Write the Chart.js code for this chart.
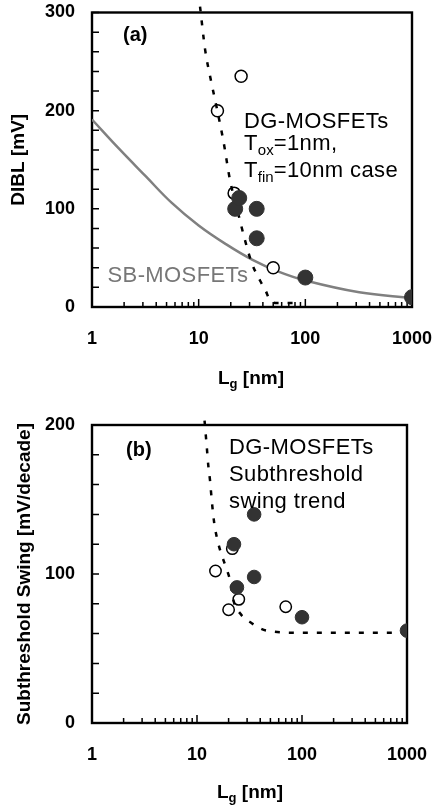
<!DOCTYPE html>
<html lang="en">
    <head>
        <meta charset="utf-8">
        <title>DIBL and subthreshold swing vs Lg</title>
        <script type="text/javascript" src="https://cdn.jsdelivr.net/npm/chart.js@4/dist/chart.umd.min.js"></script>
        <style>
            body { margin: 0; background: #fff; width: 435px; height: 807px; position: relative; overflow: hidden;
                   font-family: 'Liberation Sans', Arial, sans-serif; }
            canvas { position: absolute; left: 0; }
            .t { position: absolute; white-space: nowrap; line-height: 1; font-size: 22px; letter-spacing: 0.4px; color: #000; }
            .t sub { font-size: 15px; vertical-align: -5px; line-height: 0; letter-spacing: 0; }
            .lab { font-weight: bold; font-size: 20px; letter-spacing: 0; }
            .ax { font-weight: bold; font-size: 19px; letter-spacing: 0; }
            .ax sub { font-size: 13px; vertical-align: -4px; }
        </style>
    </head>
    <body>
        <canvas id="chartA" width="435" height="400" style="top:0"></canvas>
        <canvas id="chartB" width="435" height="407" style="top:400px"></canvas>

        <!-- texte du graphe (a) -->
        <div class="t lab" style="left:123px; top:24px">(a)</div>
        <div class="t" style="left:244px; top:109.5px">DG-MOSFETs</div>
        <div class="t" style="left:244px; top:132px">T<sub>ox</sub>=1nm,</div>
        <div class="t" style="left:244px; top:158.5px">T<sub>fin</sub>=10nm case</div>
        <div class="t" style="left:107.5px; top:264px; color:#777">SB-MOSFETs</div>
        <div class="t ax" style="left:218px; top:368px">L<sub>g</sub> [nm]</div>

        <!-- texte du graphe (b) -->
        <div class="t lab" style="left:126px; top:439px">(b)</div>
        <div class="t" style="left:229px; top:435.7px">DG-MOSFETs</div>
        <div class="t" style="left:229px; top:463px">Subthreshold</div>
        <div class="t" style="left:229px; top:489.7px">swing trend</div>
        <div class="t ax" style="left:217px; top:782px">L<sub>g</sub> [nm]</div>

        <script type="text/javascript">
        /// (a) DIBL [mV] en fonction de Lg [nm]
        const diblOpenLg = [15, 21.5, 25, 50];
        const diblOpenVal = [200, 116, 235, 40];
        const diblFilledLg = [22, 24, 35, 35, 100, 1000];
        const diblFilledVal = [100, 111, 100, 70, 30, 10];
        const sbLg = [1, 1.8, 3.2, 5.6, 10, 18, 32, 56, 100, 320, 1000];
        const sbDibl = [191, 161, 133, 106, 83, 64, 48, 36, 27, 15, 9];
        const dgTrendLg = [10.3, 11.5, 13.2, 14.7, 17, 19.7, 23.5, 27.2, 31.4, 37.6, 42.7, 47, 55, 90];
        const dgTrendDibl = [306, 262, 228, 204, 170, 129, 95, 68, 45, 27, 16, 6, 4, 4];

        /// (b) Subthreshold swing [mV/decade]
        const ssOpenLg = [15, 20, 21.7, 25, 70];
        const ssOpenVal = [102, 76, 117, 83, 78];
        const ssFilledLg = [22.5, 24, 35, 35, 100, 1000];
        const ssFilledVal = [120, 91, 140, 98, 71, 62];
        const ssTrendLg = [11.8, 12.4, 12.8, 13.3, 13.8, 14.6, 15.4, 16.6, 19.2, 20.6, 22.2, 25.7, 33.2, 46, 100, 1000];
        const ssTrendVal = [203, 185, 173, 163, 150, 134, 125, 116, 103, 96, 82.5, 73.6, 67, 62, 60.5, 60.5];

        /// ticks
        const xMajorTicks = [1, 10, 100, 1000];
        const diblTicks = [0, 100, 200, 300];
        const ssTicks = [0, 100, 200];

        Chart.defaults.font.family = "'Liberation Sans', Arial, sans-serif";
        Chart.defaults.color = '#000';

        function pts(xs, ys) {
            return xs.map((x, i) => ({x: x, y: ys[i]}));
        }

        // cadre + petites graduations vers l'interieur
        const cadre = {
            id: 'cadre',
            beforeDatasetsDraw(chart, args, opts) {
                const ctx = chart.ctx;
                const a = chart.chartArea;
                const x = chart.scales.x, y = chart.scales.y;
                ctx.save();
                ctx.strokeStyle = '#000';
                ctx.lineWidth = 1.5;
                ctx.beginPath();
                for (let v = y.min; v <= y.max; v += opts.yStep) {
                    const py = y.getPixelForValue(v);
                    ctx.moveTo(a.left, py);
                    ctx.lineTo(a.left + 7, py);
                }
                for (let d = 1; d < 1000; d *= 10) {
                    for (let k = 1; k <= 10; k++) {
                        const px = x.getPixelForValue(d * k);
                        const len = (k === 1 || k === 10) ? 8 : 5;
                        ctx.moveTo(px, a.bottom);
                        ctx.lineTo(px, a.bottom - len);
                    }
                }
                ctx.stroke();
                ctx.lineWidth = 2.4;
                ctx.strokeRect(a.left, a.top, a.right - a.left, a.bottom - a.top);
                ctx.restore();
            }
        };

        // tickLength sert d'ecart pour les etiquettes (grille masquee), padding a 0
        function options(yTitle, yMax, yTicks, yStep, pad, xHeight, titlePad) {
            return {
                responsive: false,
                animation: false,
                devicePixelRatio: 1,
                layout: {padding: pad},
                plugins: {
                    legend: {display: false},
                    tooltip: {enabled: false},
                    cadre: {yStep: yStep}
                },
                scales: {
                    x: {
                        type: 'logarithmic',
                        min: 1,
                        max: 1000,
                        grid: {display: false, drawTicks: true, tickLength: 21},
                        border: {display: false},
                        ticks: {
                            autoSkip: false,
                            maxRotation: 0,
                            minRotation: 0,
                            padding: 0,
                            font: {size: 18, weight: 'bold'},
                            callback: (v) => xMajorTicks.includes(v) ? String(v) : ''
                        },
                        afterFit: (s) => { s.height = xHeight; }
                    },
                    y: {
                        min: 0,
                        max: yMax,
                        grid: {display: false, drawTicks: true, tickLength: 17},
                        border: {display: false},
                        afterBuildTicks: (s) => { s.ticks = yTicks.map(v => ({value: v})); },
                        ticks: {
                            padding: 0,
                            font: {size: 18, weight: 'bold'}
                        },
                        title: {
                            display: true,
                            text: yTitle,
                            font: {size: 19, weight: 'bold'},
                            padding: {top: titlePad, bottom: 0}
                        },
                        afterFit: (s) => { s.width = 92; }
                    }
                }
            };
        }

        new Chart(document.getElementById('chartA').getContext('2d'), {
            type: 'scatter',
            data: {
                datasets: [
                    {
                        data: pts(diblFilledLg, diblFilledVal),
                        pointRadius: 7.5,
                        pointBackgroundColor: '#333',
                        pointBorderColor: '#333',
                        order: 0
                    },
                    {
                        data: pts(dgTrendLg, dgTrendDibl),
                        showLine: true,
                        pointRadius: 0,
                        borderColor: '#000',
                        borderWidth: 2.5,
                        borderDash: [5, 9],
                        cubicInterpolationMode: 'monotone',
                        clip: false,
                        order: 1
                    },
                    {
                        data: pts(diblOpenLg, diblOpenVal),
                        pointRadius: 6,
                        pointBorderWidth: 1.5,
                        pointBackgroundColor: '#fff',
                        pointBorderColor: '#000',
                        order: 2
                    },
                    {
                        data: pts(sbLg, sbDibl),
                        showLine: true,
                        pointRadius: 0,
                        borderColor: '#808080',
                        borderWidth: 2.5,
                        tension: 0.4,
                        order: 3
                    }
                ]
            },
            options: options('DIBL [mV]', 300, diblTicks, 20, {top: 12.5, right: 23, left: 0, bottom: 0}, 93, 7.5),
            plugins: [cadre]
        });

        new Chart(document.getElementById('chartB').getContext('2d'), {
            type: 'scatter',
            data: {
                datasets: [
                    {
                        data: pts(ssFilledLg, ssFilledVal),
                        pointRadius: 6.8,
                        pointBackgroundColor: '#333',
                        pointBorderColor: '#333',
                        order: 0
                    },
                    {
                        data: pts(ssTrendLg, ssTrendVal),
                        showLine: true,
                        pointRadius: 0,
                        borderColor: '#000',
                        borderWidth: 2.5,
                        borderDash: [5, 9],
                        cubicInterpolationMode: 'monotone',
                        clip: false,
                        order: 1
                    },
                    {
                        data: pts(ssOpenLg, ssOpenVal),
                        pointRadius: 5.7,
                        pointBorderWidth: 1.5,
                        pointBackgroundColor: '#fff',
                        pointBorderColor: '#000',
                        order: 2
                    }
                ]
            },
            options: options('Subthreshold Swing [mV/decade]', 200, ssTicks, 20, {top: 25, right: 28, left: 0, bottom: 0}, 84, 13.5),
            plugins: [cadre]
        });
        </script>
    </body>
</html>
